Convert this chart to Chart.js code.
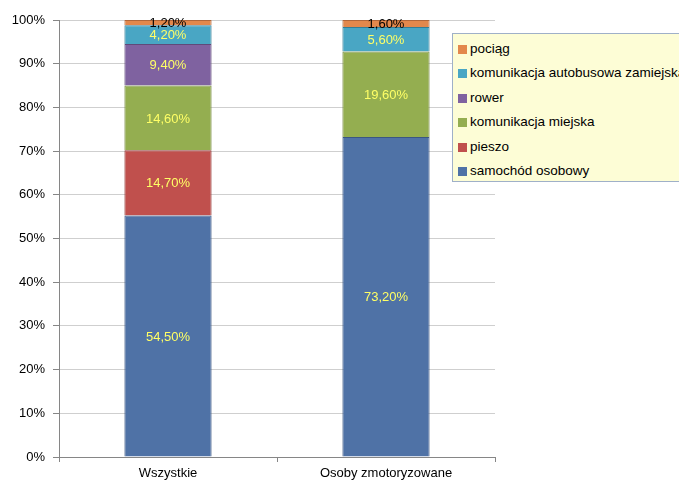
<!DOCTYPE html>
<html>
<head>
<meta charset="utf-8">
<script src="https://cdn.jsdelivr.net/npm/chart.js@4"></script>
<style>
  html, body { margin: 0; padding: 0; background: #fff; overflow: hidden; }
  #wrap { position: relative; width: 679px; height: 484px; }
  #legend {
    position: absolute; left: 452px; top: 33px; width: 240px; height: 149px;
    background: #fdfdd6; border: 1px solid #9fb0c8; box-sizing: border-box;
    padding-top: 3px; font: 13.5px "Liberation Sans", Arial, sans-serif; color: #000;
  }
  .item { height: 24.4px; line-height: 24px; white-space: nowrap; padding-left: 5px; }
  .item i { display: inline-block; width: 9px; height: 9px; margin-right: 3px; vertical-align: -1px; }
</style>
</head>
<body>
<div id="wrap">
  <canvas id="chart" width="679" height="484"></canvas>
  <div id="legend"></div>
</div>
<script>
const groups = ['Wszystkie', 'Osoby zmotoryzowane'];
const modes = ['samochód osobowy', 'pieszo', 'komunikacja miejska', 'rower', 'komunikacja autobusowa zamiejska', 'pociąg'];
const samochod = [54.5, 73.2];
const pieszo = [14.7, 0];
const miejska = [14.6, 19.6];
const rower = [9.4, 0];
const autobus = [4.2, 5.6];
const pociag = [1.2, 1.6];
const yTicks = [0, 10, 20, 30, 40, 50, 60, 70, 80, 90, 100];

const series = [samochod, pieszo, miejska, rower, autobus, pociag];
const fills = ['#4f72a6', '#c0504d', '#94ae50', '#7f62a0', '#49a6c4', '#e3884c'];
const edges = ['#3a5682', '#943a38', '#71863c', '#5f4a7a', '#347d95', '#b0663a'];
const labelColors = ['#ffff66', '#ffff66', '#ffff66', '#ffff66', '#ffff66', '#000'];

// each bar is drawn as a share of its own total (100% stacked)
const totals = groups.map((g, i) => series.reduce((s, arr) => s + arr[i], 0));

const datasets = series.map((arr, k) => ({
    label: modes[k],
    raw: arr,
    data: arr.map((v, i) => v / totals[i] * 100),
    backgroundColor: fills[k],
    borderColor: edges[k],
    borderWidth: 1,
    barPercentage: 0.4,
    categoryPercentage: 1
}));

const fmt = v => v.toFixed(2).replace('.', ',') + '%';

const valueLabels = {
    id: 'valueLabels',
    afterDatasetsDraw(chart) {
        const ctx = chart.ctx;
        ctx.save();
        ctx.font = '13px "Liberation Sans", Arial, sans-serif';
        ctx.textAlign = 'center';
        ctx.textBaseline = 'middle';
        chart.data.datasets.forEach((ds, k) => {
            chart.getDatasetMeta(k).data.forEach((bar, i) => {
                if (!ds.raw[i]) return;
                ctx.fillStyle = labelColors[k];
                ctx.fillText(fmt(ds.raw[i]), bar.x, (bar.y + bar.base) / 2 + 1);
            });
        });
        ctx.restore();
    }
};

const chart = new Chart(document.getElementById('chart'), {
    type: 'bar',
    data: { labels: groups, datasets: datasets },
    options: {
        responsive: false,
        animation: false,
        layout: { padding: { top: 20, right: 184, left: 0, bottom: 0 } },
        plugins: { legend: { display: false }, tooltip: { enabled: false } },
        scales: {
            x: {
                stacked: true,
                afterFit: s => { s.height = 27; },
                grid: { drawOnChartArea: false, tickLength: 5, tickColor: '#868686' },
                border: { color: '#868686' },
                ticks: { color: '#000', padding: 4, font: { family: '"Liberation Sans", Arial, sans-serif', size: 13 } }
            },
            y: {
                stacked: true,
                min: 0,
                max: 100,
                afterFit: s => { s.width = 59; },
                afterBuildTicks: s => { s.ticks = yTicks.map(v => ({ value: v })); },
                grid: { color: '#cfcfcf', tickLength: 6, tickColor: '#868686' },
                border: { color: '#868686' },
                ticks: {
                    color: '#000', padding: 8,
                    font: { family: '"Liberation Sans", Arial, sans-serif', size: 13 },
                    callback: v => v + '%'
                }
            }
        }
    },
    plugins: [valueLabels]
});

const legend = document.getElementById('legend');
chart.data.datasets.slice().reverse().forEach(ds => {
    const row = document.createElement('div');
    row.className = 'item';
    const box = document.createElement('i');
    box.style.background = ds.backgroundColor;
    row.appendChild(box);
    row.appendChild(document.createTextNode(ds.label));
    legend.appendChild(row);
});
</script>
</body>
</html>
